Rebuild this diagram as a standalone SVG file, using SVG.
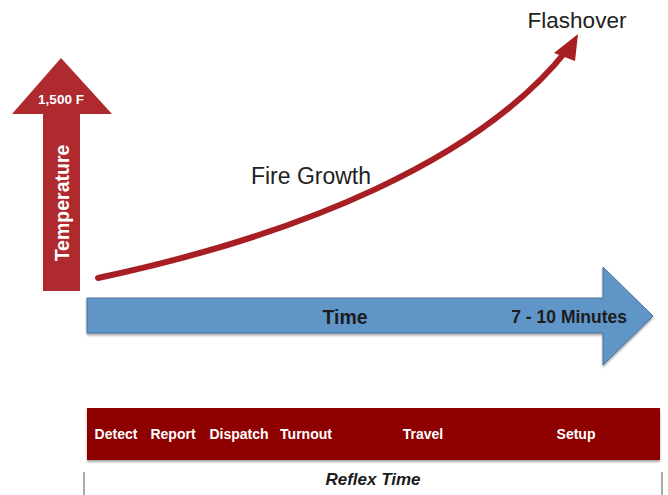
<svg xmlns="http://www.w3.org/2000/svg" width="668" height="495" viewBox="0 0 668 495">
<style>
.sans{font-family:"Liberation Sans","Open Sans",Arial,sans-serif}
.white{fill:#ffffff;font-weight:bold}
.bar{font-size:14px;text-anchor:middle}
.dark{fill:#1c1c1c;font-weight:bold}
.plain{fill:#222222}
</style>
<defs>
<filter id="sh" x="-5%" y="-5%" width="110%" height="120%">
<feGaussianBlur in="SourceAlpha" stdDeviation="1.2"/>
<feOffset dx="0" dy="1.5"/>
<feComponentTransfer><feFuncA type="linear" slope="0.35"/></feComponentTransfer>
<feMerge><feMergeNode/><feMergeNode in="SourceGraphic"/></feMerge>
</filter>
</defs>
<rect width="668" height="495" fill="#ffffff"/>
<g id="temperature-arrow">
<polygon points="61,58 112,114 80,114 80,291 43,291 43,114 12,114" fill="#AF2A2E"/>
<text class="sans white" x="61" y="104" font-size="13.5" text-anchor="middle">1,500 F</text>
<text class="sans white" font-size="19.5" text-anchor="middle" transform="translate(69,203) rotate(-90)">Temperature</text>
</g>
<g id="time-arrow">
<polygon points="87,298 603,298 603,267 653,316 603,365 603,333 87,333" fill="#6095C8" stroke="#4A6F95" stroke-width="1" filter="url(#sh)"/>
<text class="sans dark" x="345" y="324" font-size="19.5" text-anchor="middle">Time</text>
<text class="sans dark" x="627" y="323" font-size="17.5" text-anchor="end">7 - 10 Minutes</text>
</g>
<g id="connectors">
<path d="M98,278 C300,235 480,160 567,50" fill="none" stroke="#A71E23" stroke-width="6" stroke-linecap="round"/>
<polygon points="578,34 554,53 575,61" fill="#A71E23"/>
</g>
<g id="fire-growth-label">
<text class="sans plain" x="311" y="184" font-size="23" text-anchor="middle">Fire Growth</text>
</g>
<g id="flashover-label">
<text class="sans plain" x="577" y="28" font-size="22.5" text-anchor="middle">Flashover</text>
</g>
<g id="reflex-bar">
<rect x="87" y="408" width="573" height="52" fill="#8E0000" filter="url(#sh)"/>
<text class="sans white bar" x="116" y="439">Detect</text>
<text class="sans white bar" x="173" y="439">Report</text>
<text class="sans white bar" x="239" y="439">Dispatch</text>
<text class="sans white bar" x="306" y="439">Turnout</text>
<text class="sans white bar" x="423" y="439">Travel</text>
<text class="sans white bar" x="576" y="439">Setup</text>
</g>
<g id="reflex-time">
<line x1="84" y1="472" x2="84" y2="495" stroke="#aaaaaa" stroke-width="2"/>
<line x1="662" y1="472" x2="662" y2="495" stroke="#aaaaaa" stroke-width="2"/>
<text class="sans" x="373" y="485" font-size="17" font-weight="bold" font-style="italic" fill="#1c1c1c" text-anchor="middle">Reflex Time</text>
</g>
</svg>
